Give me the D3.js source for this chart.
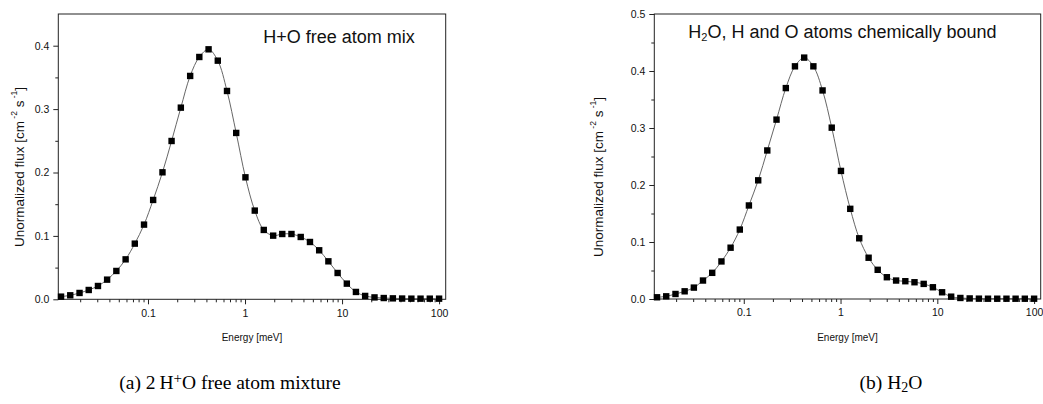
<!DOCTYPE html>
<html><head><meta charset="utf-8">
<script src="https://cdn.jsdelivr.net/npm/d3@7"></script>
<style>
body{margin:0;background:#fff}
svg{display:block}
text{font-family:"Liberation Sans",Arial,sans-serif}
</style></head>
<body><svg id="c" width="1043" height="404"></svg>
<script>
// Energy grid (meV)
const energy = [0.0127, 0.0158, 0.0197, 0.0245, 0.0305, 0.0379, 0.0472, 0.0588, 0.0731, 0.0910,
  0.113, 0.141, 0.175, 0.218, 0.272, 0.338, 0.421, 0.524, 0.652, 0.811,
  1.01, 1.26, 1.56, 1.95, 2.42, 3.01, 3.75, 4.67, 5.81, 7.23,
  9.00, 11.2, 13.9, 17.3, 21.6, 26.9, 33.4, 41.6, 51.8, 64.4, 80.2, 100];
// (a) H+O free atom mix
const fluxFree = [0.0042, 0.0063, 0.0100, 0.0147, 0.0210, 0.0310, 0.0447, 0.0630, 0.0878, 0.1178,
  0.1567, 0.2003, 0.2497, 0.3023, 0.3523, 0.3822, 0.3943, 0.3764, 0.3286, 0.2624,
  0.1924, 0.1399, 0.1094, 0.1004, 0.1030, 0.1030, 0.0983, 0.0904, 0.0773, 0.0599,
  0.0415, 0.0247, 0.0116, 0.0053, 0.0030, 0.0020, 0.0015, 0.0012, 0.0010, 0.0010, 0.0010, 0.0010];
// (b) H2O, chemically bound
const fluxBound = [0.0030, 0.0047, 0.0088, 0.0135, 0.0200, 0.0324, 0.0459, 0.0659, 0.0900, 0.1218,
  0.1641, 0.2082, 0.2606, 0.3147, 0.3700, 0.4082, 0.4235, 0.4082, 0.3659, 0.3006,
  0.2247, 0.1582, 0.1065, 0.0724, 0.0512, 0.0382, 0.0324, 0.0312, 0.0294, 0.0265,
  0.0206, 0.0118, 0.0041, 0.0018, 0.0010, 0.0006, 0.0005, 0.0005, 0.0005, 0.0005, 0.0005, 0.0005];

const xMajorTicks = [0.1, 1, 10, 100];
const xTickLabels = ["0.1", "1", "10", "100"];
const xMinorTicks = [0.02,0.03,0.04,0.05,0.06,0.07,0.08,0.09,
  0.2,0.3,0.4,0.5,0.6,0.7,0.8,0.9, 2,3,4,5,6,7,8,9, 20,30,40,50,60,70,80,90];
const yMajorA = [0, 0.1, 0.2, 0.3, 0.4];
const yMinorA = [0.05, 0.15, 0.25, 0.35];
const yMajorB = [0, 0.1, 0.2, 0.3, 0.4, 0.5];
const yMinorB = [0.05, 0.15, 0.25, 0.35, 0.45];
const xDomain = [0.0119, 117];

const svg = d3.select("#c");

function panel(cfg) {
  const g = svg.append("g");
  const x = d3.scaleLog().domain(xDomain).range([cfg.x0, cfg.x1]);
  const y = d3.scaleLinear().domain([0, cfg.ymax]).range([cfg.yb, cfg.yt]);

  // minor ticks
  g.append("g").attr("transform", `translate(0,${cfg.yb})`)
    .call(d3.axisBottom(x).tickValues(xMinorTicks).tickFormat("").tickSize(3))
    .call(a => a.select(".domain").remove());
  g.append("g").attr("transform", `translate(${cfg.x0},0)`)
    .call(d3.axisLeft(y).tickValues(cfg.yMinor).tickFormat("").tickSize(3))
    .call(a => a.select(".domain").remove());
  // major ticks
  g.append("g").attr("transform", `translate(0,${cfg.yb})`)
    .call(d3.axisBottom(x).tickValues(xMajorTicks)
      .tickFormat((d, i) => xTickLabels[i]).tickSize(5).tickPadding(5))
    .call(a => a.select(".domain").remove());
  g.append("g").attr("transform", `translate(${cfg.x0},0)`)
    .call(d3.axisLeft(y).tickValues(cfg.yMajor).tickFormat(d3.format(".1f")).tickSize(5).tickPadding(4))
    .call(a => a.select(".domain").remove());
  g.selectAll(".tick line").attr("stroke", "#222");
  g.selectAll(".tick text").attr("fill", "#111").style("font-size", "10.5px")
    .style("font-family", '"Liberation Sans", Arial, sans-serif');

  // frame
  g.append("rect").attr("x", cfg.x0).attr("y", cfg.yt)
    .attr("width", cfg.x1 - cfg.x0).attr("height", cfg.yb - cfg.yt)
    .attr("fill", "none").attr("stroke", "#222").attr("stroke-width", 1);

  // line
  const pts = energy.map((e, i) => [x(e), y(cfg.values[i])]);
  g.append("path").attr("d", d3.line().curve(d3.curveCatmullRom.alpha(0.5))(pts))
    .attr("fill", "none").attr("stroke", "#555").attr("stroke-width", 0.9);
  // markers
  const s = 6.4;
  g.selectAll("rect.m").data(pts).join("rect").attr("class", "m")
    .attr("x", d => d[0] - s / 2).attr("y", d => d[1] - s / 2)
    .attr("width", s).attr("height", s).attr("fill", "#000");

  // x label
  g.append("text").attr("x", (cfg.x0 + cfg.x1) / 2).attr("y", 341)
    .attr("text-anchor", "middle").style("font-size", "10px").attr("fill", "#111")
    .text("Energy [meV]");

  // y label
  const yl = g.append("text")
    .attr("transform", `translate(${cfg.ylx},${cfg.yly}) rotate(-90)`)
    .attr("text-anchor", "middle").attr("dominant-baseline", "central")
    .style("font-size", "13.5px").attr("fill", "#111");
  yl.append("tspan").text("Unormalized flux [cm");
  yl.append("tspan").attr("baseline-shift", "super").style("font-size", "8.5px").text(" -2");
  yl.append("tspan").text(" s");
  yl.append("tspan").attr("baseline-shift", "super").style("font-size", "8.5px").text(" -1");
  yl.append("tspan").text("]");

  // annotation
  const an = g.append("text").attr("x", cfg.annX).attr("y", cfg.annY)
    .style("font-size", "18px").attr("fill", "#111");
  cfg.ann(an);

  // caption
  const cap = g.append("text").attr("x", cfg.capX).attr("y", 389)
    .attr("text-anchor", "middle").attr("fill", "#000")
    .style("font-family", '"Liberation Serif", "DejaVu Serif", serif').style("font-size", "19.5px");
  cfg.cap(cap);
}

panel({
  x0: 58.3, x1: 445.7, yb: 299.3, yt: 14, ymax: 0.45,
  yMajor: yMajorA, yMinor: yMinorA, values: fluxFree,
  ylx: 18.5, yly: 167, annX: 263.3, annY: 42.7,
  ann: t => t.text("H+O free atom mix"),
  capX: 230,
  cap: t => {
    t.append("tspan").text("(a) 2\u2009H");
    t.append("tspan").attr("baseline-shift", "6px").style("font-size", "15px").text("+");
    t.append("tspan").text("O free atom mixture");
  }
});

panel({
  x0: 654.3, x1: 1040.7, yb: 299, yt: 14, ymax: 0.5,
  yMajor: yMajorB, yMinor: yMinorB, values: fluxBound,
  ylx: 597.5, yly: 177, annX: 688.3, annY: 38.3,
  ann: t => {
    t.append("tspan").text("H");
    t.append("tspan").attr("baseline-shift", "-2.5px").style("font-size", "11px").text("2");
    t.append("tspan").text("O, H and O atoms chemically bound");
  },
  capX: 891,
  cap: t => {
    t.append("tspan").text("(b) H");
    t.append("tspan").attr("baseline-shift", "-3px").style("font-size", "14px").text("2");
    t.append("tspan").text("O");
  }
});
</script>
</body></html>
